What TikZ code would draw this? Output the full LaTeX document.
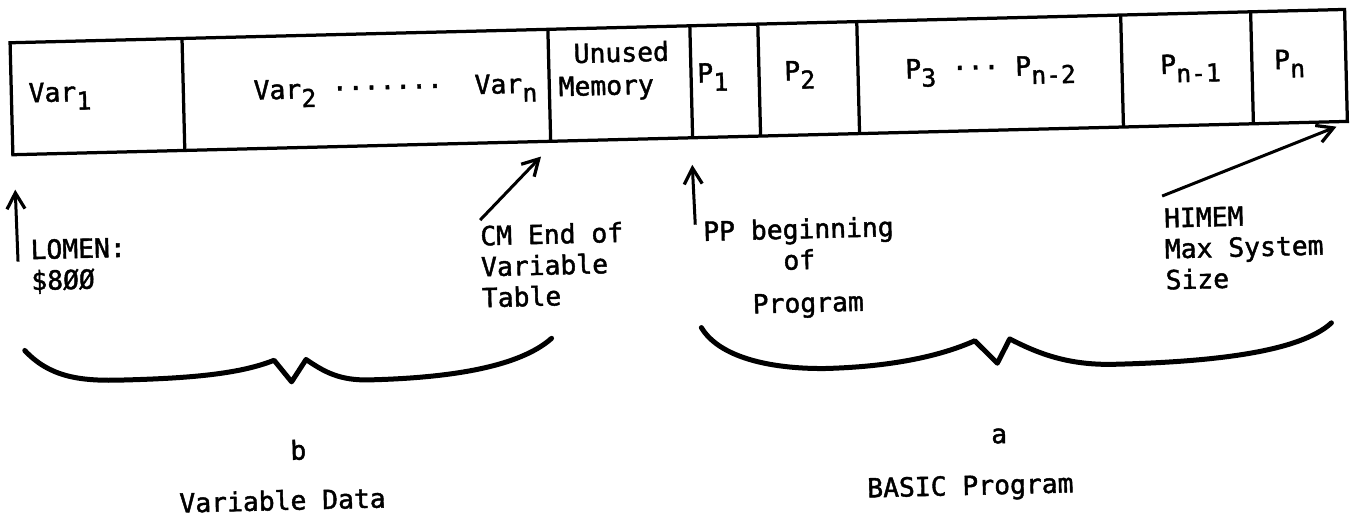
\documentclass[tikz,border=0pt]{standalone}
\usepackage{fontspec}
\setmonofont[FakeBold=1.6]{DejaVu Sans Mono}
\usetikzlibrary{positioning, arrows.meta}
\tikzset{linea/.style={line width=0.65mm}}
\tikzset{flecha/.style={line width=0.6mm,-{Straight Barb[length=3.2mm,width=3.6mm,line width=0.65mm]}}}
\tikzset{llave/.style={line width=1mm,line join=round,line cap=round}}
\tikzset{nota/.style={anchor=north west,align=left}}
\newcommand{\bajo}[1]{\raisebox{-0.6ex}{\fontsize{14}{14}\selectfont #1}}

\begin{document}
\begin{tikzpicture}[
                x = 0.02cm, y = -0.02cm,
                every node/.style={inner sep=0pt,font=\ttfamily\fontsize{15}{17.6}\selectfont}
            ]
                \useasboundingbox (0,0) rectangle (1352,521);
                \begin{scope}[rotate=1.43, transform shape]
                \draw[linea] (9,43) rectangle (1344,155);
                \foreach \x in {181,547,689,757,856,1120,1250}
                    \draw[linea] (\x,43) -- (\x,155);

                \node[anchor=base west](var1) at (26,103) {Var\bajo{1}};
                \node[anchor=base west](vars) at (251,106) {Var\bajo{2} ·······~~Var\bajo{n}};
                \node[nota](libre) at (556,57) {~Unused\\[1pt]Memory};
                \node[anchor=base west](p1) at (695,100) {P\bajo{1}};
                \node[anchor=base west](p2) at (782,100) {P\bajo{2}};
                \node[anchor=base west](p3) at (903,101) {P\bajo{3} ··· P\bajo{n-2}};
                \node[anchor=base west](pn1) at (1158,103) {P\bajo{n-1}};
                \node[anchor=base west](pn) at (1272,101) {P\bajo{n}};

                \node[nota](lomen) at (24,240) {LOMEN:\\\$8ØØ};
                \node[nota](cm) at (474,237) {CM End of\\Variable\\Table};
                \node[nota](pp) at (697,238) {PP beginning\\~~~~~of\\[0.24cm]~~~Program};
                \node[nota](himem) at (1158,237) {HIMEM\\Max System\\Size};

                \coordinate (lomen-a) at (11.5,262);
                \coordinate (lomen-b) at (10.5,190);
                \coordinate (cm-a) at (474.5,232);
                \coordinate (cm-b) at (537,170);
                \coordinate (pp-a) at (689.5,242);
                \coordinate (pp-b) at (688,182);
                \coordinate (himem-a) at (1157,225);
                \coordinate (himem-b) at (1333,160);
                \draw[flecha] (lomen-a) -- (lomen-b);
                \draw[flecha] (cm-a) -- (cm-b);
                \draw[flecha] (pp-a) -- (pp-b);
                \draw[flecha] (himem-a) -- (himem-b);

                \draw[llave] (16,351) .. controls (40,378) and (70,383) .. (110,383)
                    .. controls (180,383) and (230,380) .. (265,367) -- (282,389) -- (297,367)
                    .. controls (315,380) and (330,389) .. (360,389)
                    .. controls (440,389) and (510,380) .. (543,352);
                \draw[llave] (693,345) .. controls (710,375) and (760,388) .. (815,389)
                    .. controls (880,389) and (930,380) .. (966,365) -- (988,388) -- (1001,364)
                    .. controls (1030,380) and (1060,392) .. (1105,392)
                    .. controls (1200,392) and (1290,385) .. (1323,356);

                \node[anchor=base](b) at (287,467) {b};
                \node[anchor=base](datos) at (270,517) {Variable Data};
                \node[anchor=base](a) at (988,468) {a};
                \node[anchor=base](programa) at (958,519) {BASIC Program};
                \end{scope}
            \end{tikzpicture}
\end{document}
